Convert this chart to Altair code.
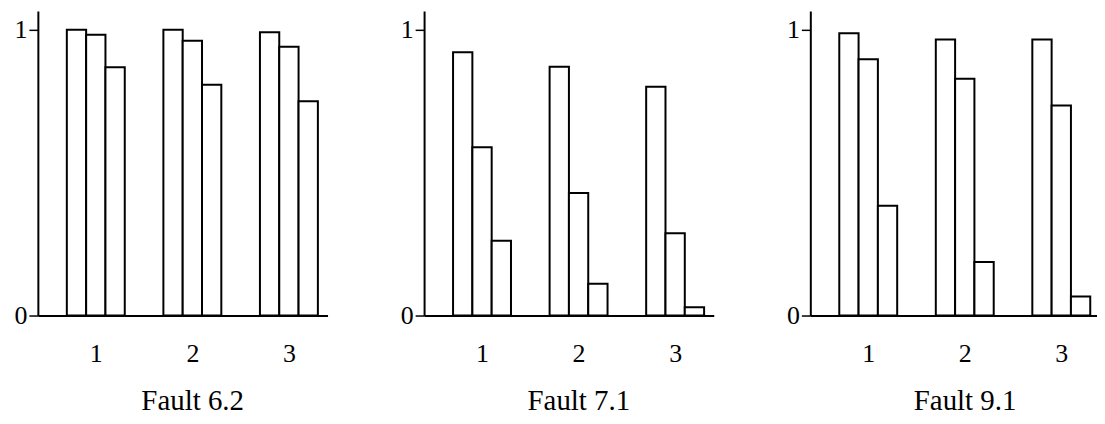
import altair as alt
import pandas as pd

groups = [1, 2, 3]
bar_index = [0, 1, 2]
faults = ["Fault 6.2", "Fault 7.1", "Fault 9.1"]

f62_a = [1.000, 1.000, 0.991]
f62_b = [0.983, 0.962, 0.941]
f62_c = [0.869, 0.808, 0.750]

f71_a = [0.921, 0.871, 0.801]
f71_b = [0.589, 0.429, 0.288]
f71_c = [0.262, 0.111, 0.029]

f91_a = [0.988, 0.966, 0.966]
f91_b = [0.897, 0.829, 0.735]
f91_c = [0.384, 0.187, 0.067]

series = {
    "Fault 6.2": [f62_a, f62_b, f62_c],
    "Fault 7.1": [f71_a, f71_b, f71_c],
    "Fault 9.1": [f91_a, f91_b, f91_c],
}

rows = []
for name in faults:
    for k, vals in zip(bar_index, series[name]):
        for g, v in zip(groups, vals):
            rows.append({"fault": name, "group": g, "idx": k, "value": v})
df = pd.DataFrame(rows)

FONT = "Liberation Serif"
PX_PER_UNIT = 97.0


def panel(name, xmax):
    width = round((xmax - 0.4) * PX_PER_UNIT)
    base = alt.Chart(df[df.fault == name]).transform_calculate(
        x0="datum.group + datum.idx * 0.2 - 0.3",
        x1="datum.group + datum.idx * 0.2 - 0.1",
    )
    bars = base.mark_bar(fill="white", stroke="black", strokeWidth=2).encode(
        x=alt.X(
            "x0:Q",
            scale=alt.Scale(domain=[0.4, xmax], nice=False, zero=False),
            axis=alt.Axis(
                values=groups, format="d", ticks=False, tickSize=0, grid=False,
                title=name, titleX=155, titleAlign="center",
                titleFont=FONT, titleFontSize=29, titleFontWeight="normal",
                titleColor="black", titlePadding=20,
                labelFont=FONT, labelFontSize=26, labelColor="black",
                labelPadding=25, labelFlush=False,
                domainColor="black", domainWidth=2,
            ),
        ),
        x2="x1:Q",
        y=alt.Y(
            "value:Q",
            scale=alt.Scale(domain=[0, 1.066], nice=False),
            axis=alt.Axis(
                values=[0, 1], format="d", grid=False, title=None,
                tickSize=9, tickWidth=1.5, tickColor="black",
                labelFont=FONT, labelFontSize=26, labelColor="black",
                labelPadding=2, labelFlush=False,
                domainColor="black", domainWidth=2,
            ),
        ),
        y2=alt.datum(0),
    )
    return bars.properties(width=width, height=306)


chart = alt.hconcat(
    panel(faults[0], 3.4), panel(faults[1], 3.4), panel(faults[2], 3.37),
    spacing=73,
).configure_view(stroke=None).properties(
    padding={"left": 6, "top": 2, "right": 0, "bottom": 0},
    background="white",
)

chart.save("out.html", embed_options={"renderer": "svg", "actions": False})
